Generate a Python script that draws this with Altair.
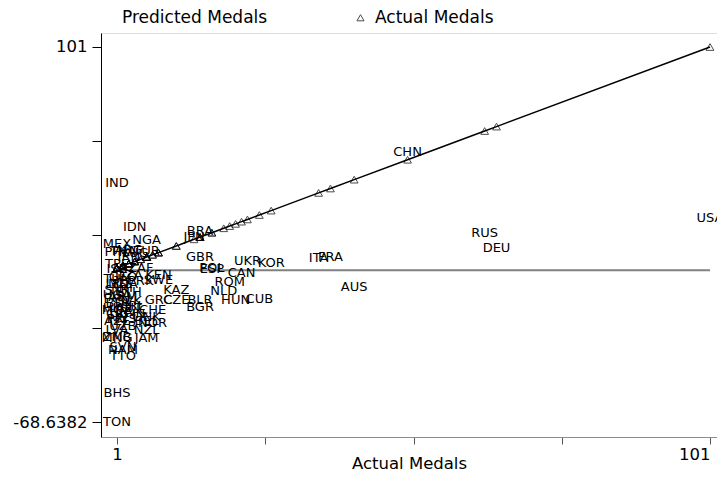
import altair as alt
import pandas as pd

# Country codes, actual medal counts (x) and predicted-medal label positions (y)
countries = ["USA", "DEU", "RUS", "CHN", "AUS", "FRA", "ITA", "KOR", "CUB", "UKR",
             "CAN", "HUN", "ROM", "NLD", "POL", "ESP", "BRA", "GBR", "BLR", "BGR",
             "JPN", "CZE", "KAZ", "GRC", "SWE", "KEN", "CHE", "NOR", "DNK", "TUR",
             "NZL", "BEL", "NGA", "JAM", "ZAF", "PRK", "IRL", "FIN", "IDN", "YUG",
             "DZA", "ETH", "IRN", "SVK", "ARG", "AUT", "ARM", "HRV", "PRT", "THA",
             "NAM", "SVN", "MYS", "MDA", "UZB", "GEO", "TTO", "BDI", "CRI", "ECU",
             "HKG", "SYR", "AZE", "BHS", "TPE", "LVA", "PHL", "TON", "ZMB", "MNG",
             "MEX", "MOZ", "PRI", "TUN", "UGA", "IND", "ISR", "LTU"]
actual = [101, 65, 63, 50, 41, 37, 35, 27, 25, 23,
          22, 21, 20, 19, 17, 17, 15, 15, 15, 15,
          14, 11, 11, 8, 8, 8, 7, 7, 6, 6,
          6, 6, 6, 6, 5, 5, 4, 4, 4, 4,
          3, 3, 3, 3, 3, 3, 2, 2, 2, 2,
          2, 2, 2, 2, 2, 2, 2, 1, 1, 1,
          1, 1, 1, 1, 1, 1, 1, 1, 1, 1,
          1, 1, 1, 1, 1, 1, 1, 1]
predicted = [23.5, 10.2, 17.0, 53.5, -7.6, 6.0, 5.6, 3.3, -13.0, 4.2,
             -1.2, -13.4, -5.3, -9.4, 1.0, 0.8, 17.8, 6.0, -13.4, -16.6,
             15.0, -13.4, -9.0, -13.4, -4.5, -2.1, -18.0, -23.9, -21.0, 8.5,
             -27.0, -23.0, 13.7, -30.6, 1.0, -4.9, -16.0, -20.0, 19.6, 8.0,
             -2.0, -10.0, 6.0, -14.0, 9.0, -17.0, -12.0, -19.0, -8.0, 8.5,
             -36.1, -34.7, -22.0, -6.0, -25.0, -3.0, -38.8, -15.0, -20.0, -13.0,
             -17.0, -9.0, -23.0, -55.5, 3.0, -27.0, 8.3, -68.6382, -30.0, -30.6,
             11.9, -18.0, -22.0, -4.0, -11.0, 39.5, 0.5, -6.0]

series_names = ["Predicted Medals", "Actual Medals"]
x_ticks = [1, 26, 51, 76, 101]
y_min, y_max = -68.6382, 101
y_ticks = [y_min + i * (y_max - y_min) / 4 for i in range(5)]

df = pd.DataFrame({"country": countries, "actual": actual, "predicted": predicted})
df["series"] = "Actual Medals"
zero_df = pd.DataFrame({"x": [min(actual), max(actual)], "y": [0, 0]})

FONT = "DejaVu Sans"

x_scale = alt.Scale(domain=[-1.698, 102.18], nice=False, zero=False)
y_scale = alt.Scale(domain=[-75.42, 107.33], nice=False, zero=False)

x_axis = alt.Axis(values=x_ticks,
                  labelExpr="datum.value == 1 || datum.value == 101 ? datum.label : ''",
                  grid=False, tickSize=7, labelPadding=2, labelFont=FONT,
                  labelFontSize=16.5, labelColor="black", labelOverlap=False,
                  labelFlush=10, domainColor="#8c8c8c", tickColor="#555555",
                  title="Actual Medals", titleFont=FONT, titleFontSize=16.5,
                  titleFontWeight="normal", titleColor="black", titleY=31,
                  titleBaseline="alphabetic")
y_axis = alt.Axis(values=y_ticks,
                  labelExpr="datum.value > 100 ? '101' : (datum.value < -68 ? '-68.6382' : '')",
                  grid=False, tickSize=9, labelPadding=5, labelFont=FONT,
                  labelFontSize=16.5, labelColor="black", labelOverlap=False,
                  labelFlush=False, labelBaseline="middle", domainColor="black",
                  tickColor="black", title=None)

zero_line = alt.Chart(zero_df).mark_line(color="#808080", strokeWidth=2).encode(
    x=alt.X("x:Q", scale=x_scale, axis=x_axis),
    y=alt.Y("y:Q", scale=y_scale, axis=y_axis),
)

actual_line = alt.Chart(df).mark_line(color="black", strokeWidth=1.5).encode(
    x=alt.X("actual:Q", scale=x_scale, axis=x_axis),
    y=alt.Y("actual:Q", scale=y_scale, axis=y_axis),
    order=alt.Order("actual:Q"),
)

actual_points = alt.Chart(df).mark_point(shape="triangle-up", filled=False,
                                         size=60, strokeWidth=1).encode(
    x=alt.X("actual:Q", scale=x_scale, axis=x_axis),
    y=alt.Y("actual:Q", scale=y_scale, axis=y_axis),
    color=alt.Color("series:N",
                    scale=alt.Scale(domain=series_names,
                                    range=["transparent", "black"]),
                    legend=alt.Legend(orient="none", legendX=-2, legendY=-24,
                                      direction="horizontal", columns=2,
                                      columnPadding=84, title=None,
                                      labelFont=FONT, labelFontSize=17,
                                      labelColor="black", symbolSize=50,
                                      symbolStrokeWidth=1, labelOffset=6,
                                      padding=0, symbolType="triangle-up")),
)

labels = alt.Chart(df).mark_text(font=FONT, fontSize=13, color="black",
                                 align="center", baseline="middle").encode(
    x=alt.X("actual:Q", scale=x_scale, axis=x_axis),
    y=alt.Y("predicted:Q", scale=y_scale, axis=y_axis),
    text="country:N",
)

chart = alt.layer(zero_line, actual_line, actual_points, labels).properties(
    width=616, height=404,
    autosize=alt.AutoSizeParams(type="none"),
    padding={"left": 93, "top": 25, "right": 0, "bottom": 34},
).configure_view(strokeWidth=0).configure(background="white")

chart.save("out.html", embed_options={"renderer": "svg", "actions": False})
